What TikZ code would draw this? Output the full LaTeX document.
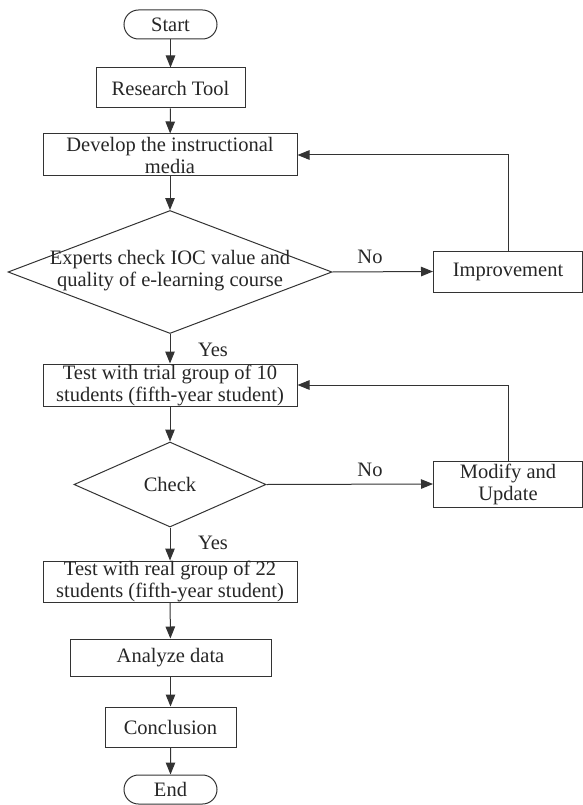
\documentclass[tikz,border=0pt]{standalone}
\usepackage{fontspec}
\setmainfont{Liberation Serif}
\usetikzlibrary{arrows.meta,shapes.geometric,shapes.misc}
\begin{document}
\begin{tikzpicture}[x=1pt,y=-1pt,
  every node/.style={text=black!85},
  box/.style={draw=black!80, line width=1pt, rectangle, inner sep=0pt, align=center,
    font=\fontsize{20.5}{22}\selectfont},
  term/.style={draw=black!80, line width=1pt, rounded rectangle, inner sep=0pt,
    minimum width=93pt, minimum height=29pt, font=\fontsize{20.5}{22}\selectfont},
  dia/.style={draw=black!80, line width=1pt, diamond, inner sep=0pt},
  txt/.style={align=center, inner sep=0pt, font=\fontsize{20.5}{22}\selectfont},
  lbl/.style={inner sep=0pt, font=\fontsize{20.5}{22}\selectfont},
  arr/.style={draw=black!80, line width=1pt, -{Triangle[length=12pt,width=9.5pt]}}
]
\useasboundingbox (0,0) rectangle (583,805);

\node[term] (start) at (170.5,24.5) {Start};
\node[box, minimum width=149pt, minimum height=40pt] (research) at (170.5,88) {Research Tool};
\node[box, minimum width=254pt, minimum height=42pt] (develop) at (170,155) {Develop the instructional\\media};
\node[dia, minimum width=324pt, minimum height=123pt] (d1) at (170,272) {};
\node[txt] (d1t) at (170,271) {Experts check IOC value and\\quality of e-learning course};
\node[box, minimum width=149pt, minimum height=41pt] (impr) at (508,271.5) {Improvement};
\node[box, minimum width=254pt, minimum height=42pt] (trial) at (170,385) {Test with trial group of 10\\students (fifth-year student)};
\node[dia, minimum width=192pt, minimum height=85pt] (d2) at (170,484.5) {};
\node[txt] (d2t) at (170,484) {Check};
\node[box, minimum width=149pt, minimum height=46pt] (modify) at (508,484) {Modify and\\Update};
\node[box, minimum width=254pt, minimum height=41pt] (real) at (170,581.5) {Test with real group of 22\\students (fifth-year student)};
\node[box, minimum width=201pt, minimum height=37pt] (analyze) at (170.5,657.5) {Analyze data};
\node[box, minimum width=131pt, minimum height=40pt] (concl) at (170.5,727) {Conclusion};
\node[term] (end) at (170.5,789.5) {End};

\node[lbl] (no1) at (370,257) {No};
\node[lbl] (yes1) at (213,350) {Yes};
\node[lbl] (no2) at (370,470) {No};
\node[lbl] (yes2) at (213,543) {Yes};

\draw[arr] (start) -- (research);
\draw[arr] (research) -- (develop);
\draw[arr] (develop) -- (d1);
\draw[arr] (d1.east) -- (impr.west);
\draw[arr] (impr.north) |- (develop.east);
\draw[arr] (d1.south) -- (trial.north);
\draw[arr] (trial) -- (d2);
\draw[arr] (d2.east) -- (modify.west);
\draw[arr] (modify.north) |- (trial.east);
\draw[arr] (d2.south) -- (real.north);
\draw[arr] (real) -- (analyze);
\draw[arr] (analyze) -- (concl);
\draw[arr] (concl) -- (end);
\end{tikzpicture}
\end{document}
